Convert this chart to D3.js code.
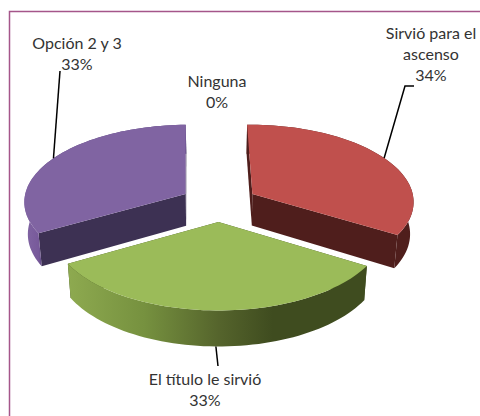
<!DOCTYPE html>
<html><head><meta charset="utf-8">
<script src="https://cdn.jsdelivr.net/npm/d3@7/dist/d3.min.js"></script>
<style>html,body{margin:0;padding:0;background:#fff}svg{display:block}text{font-family:Lato,"Open Sans",sans-serif;font-size:16px;fill:#333}</style>
</head><body><div id="c"></div>
<script>
const categories = ["Ninguna","Sirvió para el ascenso","El título le sirvió","Opción 2 y 3"];
const values = [0,34,33,33];
const percentLabels = ["0%","34%","33%","33%"];
const topColors = ["#fff","#c0504d","#9bbb59","#8064a2"];
const wallColors = ["#fff","#4f1e1c","#3f4c1f","#3d3153"];
const outerColors = ["#fff","#4f1e1c","url(#gw)","url(#pw)"];
const labelLines = [["Ninguna","0%"],["Sirvió para el","ascenso","34%"],["El título le sirvió","33%"],["Opción 2 y 3","33%"]];
const labelPos = [[217,87],[431,39],[205,385],[77,49]];

const W=480,H=416,cx=219,cy=203,A=162,B=77,D=32,P=0.09,EX=0.24,ROT=-1*Math.PI/180,TAPER=0.018;
const svg=d3.select("#c").append("svg").attr("width",W).attr("height",H);
const defs=svg.append("defs");
function grad(id,x1,x2,stops){const g=defs.append("linearGradient").attr("id",id).attr("gradientUnits","userSpaceOnUse").attr("x1",x1).attr("x2",x2).attr("y1",0).attr("y2",0);
 stops.forEach(s=>g.append("stop").attr("offset",s[0]).attr("stop-color",s[1]));}
grad("gw",70,368,[[0,"#8da94f"],[.25,"#76913f"],[.5,"#55642c"],[.68,"#3f4c1f"],[1,"#3f4c1f"]]);
grad("pw",26,42,[[0,"#8064a2"],[.8,"#77599a"],[1,"#5c4880"]]);

svg.append("rect").attr("x",9.5).attr("y",11.5).attr("width",W+20).attr("height",H+20).attr("fill","#fff").attr("stroke","#a5568a").attr("stroke-width",1.5);

const arcs=d3.pie().sort(null).startAngle(ROT).endAngle(ROT+2*Math.PI)(values);
const proj=(u,v,h)=>{const s=1/(1-P*v);return [cx+A*u*s*(1-TAPER*h),cy+(B*v+h*D)*s];};
const off=a=>{const m=(a.startAngle+a.endAngle)/2;return [EX*Math.sin(m),-EX*Math.cos(m)];};
const pt=(a,t,r,h)=>{const o=off(a);return proj(o[0]+r*Math.sin(t),o[1]-r*Math.cos(t),h);};
const line=d3.line();
const rim=(a,h,t0,t1)=>d3.range(0,61).map(i=>pt(a,t0+(t1-t0)*i/60,1,h));

[1,3,2].forEach(i=>{
 const a=arcs[i];
 [a.startAngle,a.endAngle].forEach(t=>{
  svg.append("path").attr("d",line([pt(a,t,0,0),pt(a,t,1,0),pt(a,t,1,1),pt(a,t,0,1)])+"Z").attr("fill",wallColors[i]);
 });
 svg.append("path").attr("d",line(rim(a,0,a.startAngle,a.endAngle).concat(rim(a,1,a.startAngle,a.endAngle).reverse()))+"Z").attr("fill",outerColors[i]);
 svg.append("path").attr("d",line([pt(a,a.startAngle,0,0)].concat(rim(a,0,a.startAngle,a.endAngle)))+"Z").attr("fill",topColors[i]);
});

const leaders=[null,[[405,86],[414,86]],[[218,366]],[[60,71]]];
leaders.forEach((l,i)=>{ if(!l) return;
 const a=arcs[i],m=(a.startAngle+a.endAngle)/2,base=pt(a,m,1,i===2?1:0);
 svg.append("path").attr("d",line([base].concat(l))).attr("fill","none").attr("stroke","#000").attr("stroke-width",1.5);
});

labelLines.forEach((ls,i)=>{
 const t=svg.append("text").attr("text-anchor","middle").attr("x",labelPos[i][0]).attr("y",labelPos[i][1]);
 ls.forEach((s,k)=>t.append("tspan").attr("x",labelPos[i][0]).attr("dy",k?21:0).text(s));
});
</script></body></html>
